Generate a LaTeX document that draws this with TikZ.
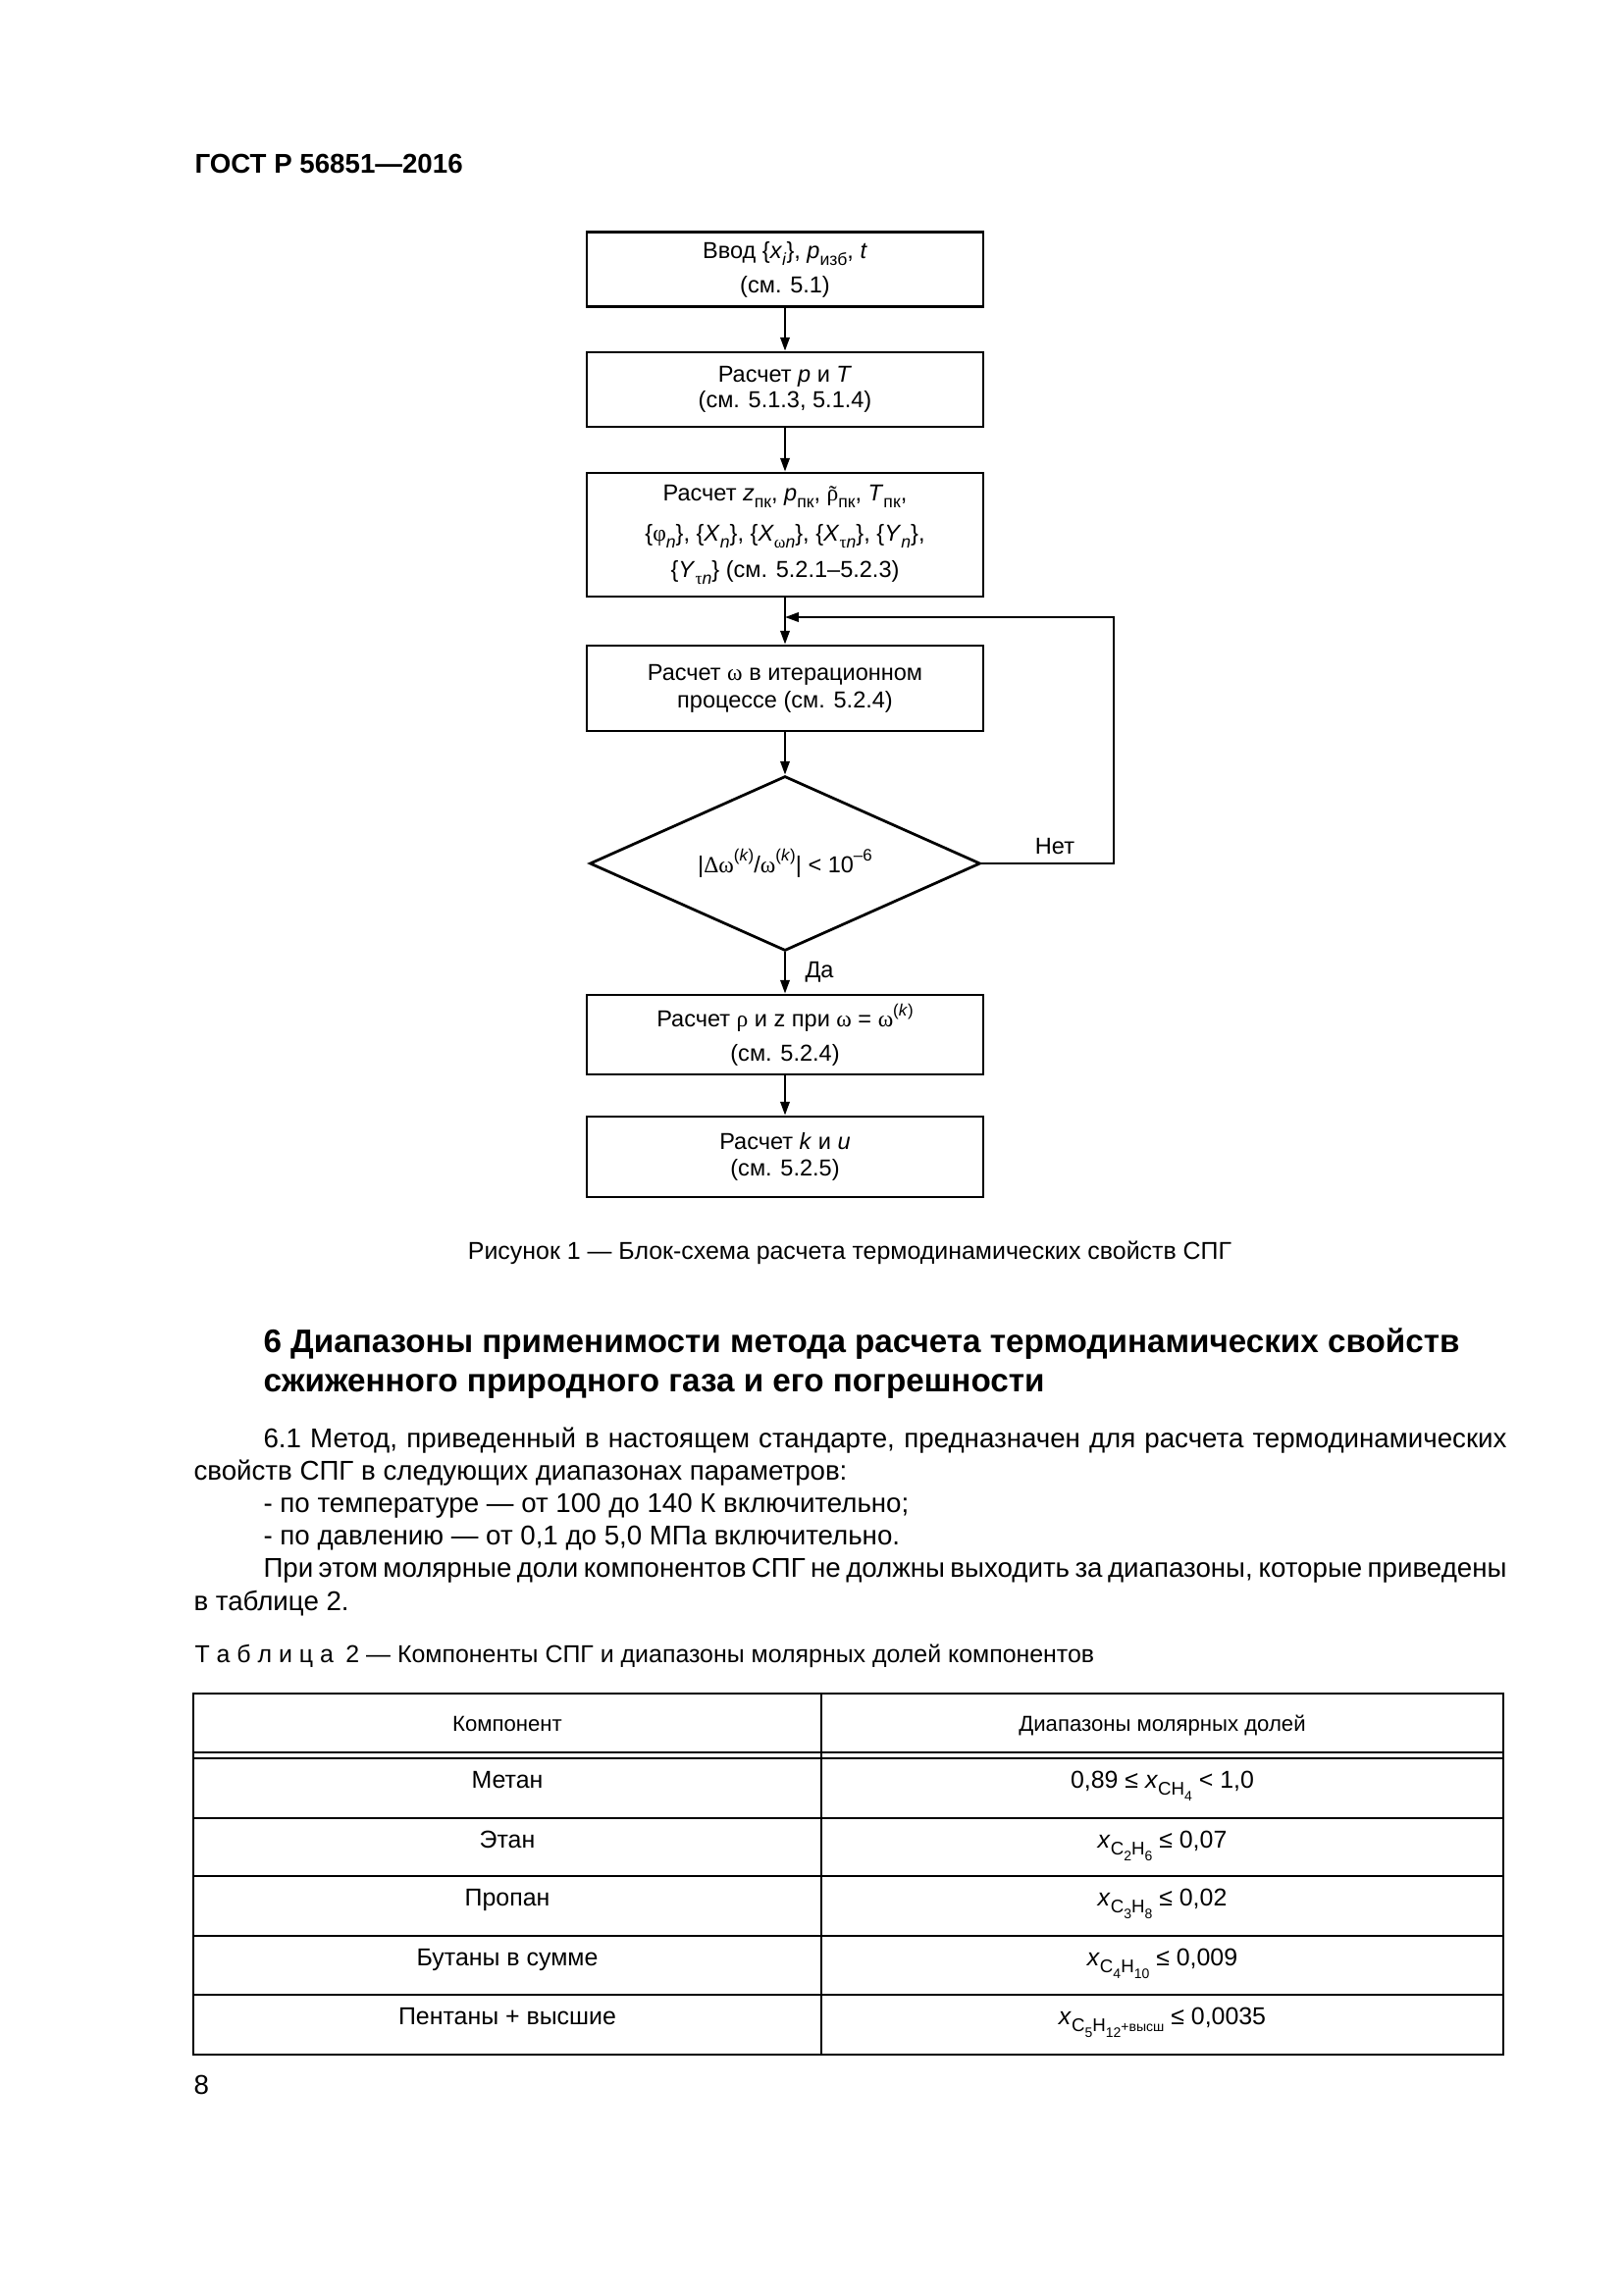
\documentclass[tikz,border=0pt]{standalone}
\usepackage{fontspec}
\usepackage{graphicx}
\setmainfont{Liberation Sans}
\newfontfamily\grk{Liberation Serif}
\usetikzlibrary{arrows.meta,shapes.geometric}
\newcommand{\lo}[1]{\raisebox{-0.3em}{\scalebox{0.75}{#1}}}
\newcommand{\hi}[1]{\raisebox{0.5em}{\scalebox{0.72}{#1}}}
\newcommand{\rhot}{\makebox[0pt][l]{\hspace{0.09em}\raisebox{-0.05em}{\grk ˜}}{\grk ρ}}
\begin{document}
\begin{tikzpicture}[x=0.36125pt,y=-0.36125pt,
  box/.style={draw,line width=1pt,minimum width=145.95pt,inner sep=0pt,align=center,font=\fontsize{8.5}{9.5}\selectfont},
  cond/.style={draw,diamond,aspect=2.2,line width=1pt,minimum width=143.8pt,minimum height=64.3pt,inner sep=0pt,font=\fontsize{8.5}{9.5}\selectfont},
  link/.style={line width=0.8pt,-{Triangle[length=5pt,width=3.4pt]}},
  lbl/.style={inner sep=0pt,font=\fontsize{8.5}{9.5}\selectfont},
  txt/.style={inner sep=0pt,anchor=base west,font=\fontsize{10}{12}\selectfont},
  cell/.style={inner sep=0pt,anchor=base,font=\fontsize{9}{11}\selectfont},
  hcell/.style={inner sep=0pt,anchor=base,font=\fontsize{8}{10}\selectfont},
  rule/.style={line width=1pt},
  thinrule/.style={line width=0.5pt}]
\fill[white] (0,0) rectangle (1654,2339);
\useasboundingbox (0,0) rectangle (1654,2339);

% header
\node[txt,font=\bfseries\fontsize{10}{12}\selectfont] (hdr) at (198,177) {ГОСТ Р 56851—2016};

% flowchart
\node[box,minimum height=27.46pt] (b1) at (800,274.7)
  {Ввод \{\textit{x}\lo{\textit{i}}\}, \textit{p}\lo{изб}, \textit{t}\\[3.3pt](см. 5.1)};
\node[box,minimum height=27.46pt] (b2) at (800,397)
  {Расчет \textit{p} и \textit{T}\\(см. 5.1.3, 5.1.4)};
\node[box,minimum height=45.52pt] (b3) at (800,545)
  {Расчет \textit{z}\lo{пк}, \textit{p}\lo{пк}, \rhot\lo{пк}, \textit{T}\lo{пк},\\[5.5pt]
   \{{\grk φ}\lo{\textit{n}}\}, \{\textit{X}\lo{\textit{n}}\}, \{\textit{X}\lo{{\grk ω}\textit{n}}\}, \{\textit{X}\lo{{\grk τ}\textit{n}}\}, \{\textit{Y}\lo{\textit{n}}\},\\[3.8pt]
   \{\textit{Y}\lo{{\grk τ}\textit{n}}\} (см. 5.2.1–5.2.3)};
\node[box,minimum height=31.43pt] (b4) at (800,701.5)
  {Расчет {\grk ω} в итерационном\\[0.7pt]процессе (см. 5.2.4)};
\node[cond] (dia) at (800,880)
  {|{\grk Δω}\hi{(\textit{k})}/{\grk ω}\hi{(\textit{k})}| < 10\hi{–6}};
\node[box,minimum height=29.26pt] (b5) at (800,1054.5)
  {Расчет {\grk ρ} и z при {\grk ω} = {\grk ω}\hi{(\textit{k})}\\[2.9pt](см. 5.2.4)};
\node[box,minimum height=29.62pt] (b6) at (800,1179)
  {Расчет \textit{k} и \textit{u}\\(см. 5.2.5)};

\coordinate (r1) at (1135,880);
\coordinate (r2) at (1135,629);
\coordinate (j) at (800,629);

\draw[link] (b1) -- (b2);
\draw[link] (b2) -- (b3);
\draw[link] (b3) -- (b4);
\draw[link] (b4) -- (dia);
\draw[link] (dia) -- (b5);
\draw[link] (b5) -- (b6);
\draw[link] (dia.east) -- (r1) -- (r2) -- (j);

\node[lbl,anchor=base] (no) at (1075,870) {Нет};
\node[lbl,anchor=base west] (yes) at (820,996) {Да};

% caption
\node[inner sep=0pt,anchor=base,font=\fontsize{9}{11}\selectfont] (cap) at (866,1283)
  {Рисунок 1 — Блок-схема расчета термодинамических свойств СПГ};

% section heading
\node[txt,font=\bfseries\fontsize{12}{14}\selectfont] (h1) at (268,1378)
  {6 Диапазоны применимости метода расчета термодинамических свойств};
\node[txt,font=\bfseries\fontsize{12}{14}\selectfont] (h2) at (268,1418)
  {сжиженного природного газа и его погрешности};

% body
\node[txt] (p1) at (268,1475) {\makebox[457.7pt][s]{6.1 Метод, приведенный в настоящем стандарте, предназначен для расчета термодинамических}};
\node[txt] (p2) at (197,1508) {свойств СПГ в следующих диапазонах параметров:};
\node[txt] (p3) at (268,1541) {- по температуре — от 100 до 140 К включительно;};
\node[txt] (p4) at (268,1574) {- по давлению — от 0,1 до 5,0 МПа включительно.};
\node[txt] (p5) at (268,1607) {\makebox[457.7pt][s]{При этом молярные доли компонентов СПГ не должны выходить за диапазоны, которые приведены}};
\node[txt] (p6) at (197,1641) {в таблице 2.};

% table caption
\node[txt,font=\fontsize{9}{11}\selectfont] (tc) at (198,1694)
  {Т а б л и ц а\enspace 2 — Компоненты СПГ и диапазоны молярных долей компонентов};

% table
\draw[rule] (197,1726) rectangle (1532,2094);
\draw[rule] (197,1786) -- (1532,1786);
\draw[rule] (197,1792) -- (1532,1792);
\draw[rule] (197,1853) -- (1532,1853);
\draw[rule] (197,1912) -- (1532,1912);
\draw[rule] (197,1973) -- (1532,1973);
\draw[rule] (197,2033) -- (1532,2033);
\draw[thinrule] (837,1726) -- (837,2094);

\node[hcell] (th1) at (517,1764) {Компонент};
\node[hcell] (th2) at (1184.5,1764) {Диапазоны молярных долей};

\node[cell] (c11) at (517,1822) {Метан};
\node[cell] (c12) at (1184.5,1822) {0,89 ≤ \textit{x}\lo{CH\lo{4}} < 1,0};
\node[cell] (c21) at (517,1883) {Этан};
\node[cell] (c22) at (1184.5,1883) {\textit{x}\lo{C\lo{2}H\lo{6}} ≤ 0,07};
\node[cell] (c31) at (517,1942) {Пропан};
\node[cell] (c32) at (1184.5,1942) {\textit{x}\lo{C\lo{3}H\lo{8}} ≤ 0,02};
\node[cell] (c41) at (517,2003) {Бутаны в сумме};
\node[cell] (c42) at (1184.5,2003) {\textit{x}\lo{C\lo{4}H\lo{10}} ≤ 0,009};
\node[cell] (c51) at (517,2063) {Пентаны + высшие};
\node[cell] (c52) at (1184.5,2063) {\textit{x}\lo{C\lo{5}H\lo{12}\scalebox{0.75}{+высш}} ≤ 0,0035};

% page number
\node[txt] (pg) at (197,2134) {8};
\end{tikzpicture}
\end{document}
